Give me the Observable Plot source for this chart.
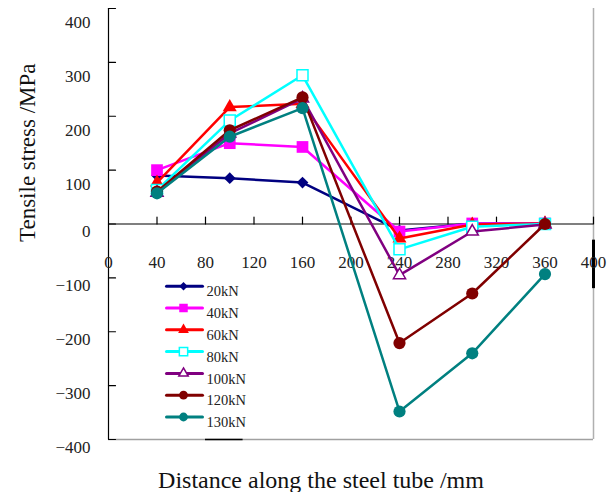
<!DOCTYPE html>
<html>
<head>
<meta charset="utf-8">
<script src="https://cdn.jsdelivr.net/npm/d3@7"></script>
<script src="https://cdn.jsdelivr.net/npm/@observablehq/plot@0.6"></script>
<style>
  html, body { margin: 0; padding: 0; background: #fff; }
  #chart svg { display: block; }
</style>
</head>
<body>
<div id="chart"></div>
<script>
// ---- data ----
const distances = [40, 100, 160, 240, 300, 360];
const loads = ["20kN", "40kN", "60kN", "80kN", "100kN", "120kN", "130kN"];
const s20kN  = [90, 85, 77, -12, 1, 1];
const s40kN  = [100, 150, 143, -14, 1, 1];
const s60kN  = [77, 217, 223, -27, -1, 1];
const s80kN  = [63, 192, 276, -47, -5, 0];
const s100kN = [58, 168, 233, -95, -14, -1];
const s120kN = [60, 174, 235, -221, -129, 0];
const s130kN = [57, 162, 215, -348, -240, -93];
const seriesValues = [s20kN, s40kN, s60kN, s80kN, s100kN, s120kN, s130kN];
const xTicks = [40, 80, 120, 160, 200, 240, 280, 320, 360, 400];
const xTickLabels = [0, 40, 80, 120, 160, 200, 240, 280, 320, 360, 400];
const yTicks = [400, 300, 200, 100, 0, -100, -200, -300, -400];
const xTitle = "Distance along the steel tube /mm";
const yTitle = "Tensile stress /MPa";

// ---- styles ----
const styles = [
  {color: "#000080", symbol: "diamond2", r: 5.3, lr: 3.8, fill: "#000080"},
  {color: "#ff00ff", symbol: "square", r: 6.6, lr: 4.8, fill: "#ff00ff"},
  {color: "#ff0000", symbol: "triangle", r: 5.2, lr: 4.0, fill: "#ff0000"},
  {color: "#00ffff", symbol: "square2", r: 7, lr: 5.3, fill: "white", hollow: true},
  {color: "#800080", symbol: "triangle2", r: 5.8, lr: 4.5, fill: "white", hollow: true},
  {color: "#800000", symbol: "circle", r: 6.1, lr: 4.4, fill: "#800000"},
  {color: "#008080", symbol: "circle", r: 6.1, lr: 4.4, fill: "#008080"}
];

const rows = [];
loads.forEach((load, i) => distances.forEach((d, j) => rows.push({load, x: d, y: seriesValues[i][j]})));

const lineShape = {draw(context, l) { context.moveTo(0, 0); context.lineTo(0, -l); }};
const serif = "'Liberation Serif', 'DejaVu Serif', serif";

const marks = [];
// frame pieces
marks.push(Plot.ruleX([400], {stroke: "#b0b0b0", strokeWidth: 1.5}));
marks.push(Plot.ruleY([-400], {stroke: "#a0a0a0", strokeWidth: 1.5}));
marks.push(Plot.ruleX([0], {stroke: "#000", strokeWidth: 1.2}));
marks.push(Plot.ruleY([0], {stroke: "#000", strokeWidth: 1.2}));
// artifacts from the original figure
marks.push(Plot.ruleX([400], {y1: -30, y2: -120, stroke: "#000", strokeWidth: 3}));
marks.push(Plot.ruleY([-400], {x1: 80, x2: 111, stroke: "#000", strokeWidth: 1.5}));
// x ticks (upward from zero line)
marks.push(Plot.vector(xTicks, {x: d => d, y: 0, length: 7, rotate: 0, anchor: "start", shape: lineShape, stroke: "#000", strokeWidth: 1.2}));
// y ticks (inward from left axis)
marks.push(Plot.vector(yTicks, {y: d => d, frameAnchor: "left", length: 7, rotate: 90, anchor: "start", shape: lineShape, stroke: "#000", strokeWidth: 1.2}));
// x tick labels
marks.push(Plot.text(xTickLabels, {x: d => d, y: 0, dy: 39, text: d => String(d), fontSize: 17, fontFamily: serif, fill: "#222"}));
// y tick labels (offset as in the original)
const fmt = d => d < 0 ? "\u2212" + Math.abs(d) : String(d);
marks.push(Plot.text(yTicks.filter(d => d > 0), {y: d => d, frameAnchor: "left", dx: -18, dy: 14, textAnchor: "end", text: fmt, fontSize: 17, fontFamily: serif, fill: "#222"}));
marks.push(Plot.text(yTicks.filter(d => d <= 0), {y: d => d, frameAnchor: "left", dx: -18, dy: 8, textAnchor: "end", text: fmt, fontSize: 17, fontFamily: serif, fill: "#222"}));
// titles
marks.push(Plot.text([xTitle], {frameAnchor: "bottom", dx: -30, dy: 48, text: d => d, fontSize: 24, fontFamily: serif, fill: "#111"}));
marks.push(Plot.text([yTitle], {frameAnchor: "left", dx: -81, dy: 18, rotate: -90, text: d => d, fontSize: 23, fontFamily: serif, fill: "#111"}));

// series
loads.forEach((load, i) => {
  const st = styles[i];
  const data = rows.filter(r => r.load === load);
  marks.push(Plot.line(data, {x: "x", y: "y", stroke: st.color, strokeWidth: 2.5}));
  marks.push(Plot.dot(data, {x: "x", y: "y", symbol: st.symbol, r: st.r,
    fill: st.fill, stroke: st.hollow ? st.color : "none", strokeWidth: st.hollow ? 1.5 : 0}));
});

// legend
const legendTop = 277.7, legendStep = 21.8;
loads.forEach((load, i) => {
  const st = styles[i];
  const dy = legendTop + i * legendStep;
  marks.push(Plot.vector([load], {frameAnchor: "top-left", dx: 58, dy, length: 36, rotate: 90, anchor: "start", shape: lineShape, stroke: st.color, strokeWidth: 3}));
  marks.push(Plot.dot([load], {frameAnchor: "top-left", dx: 75, dy, symbol: st.symbol, r: st.lr,
    fill: st.fill, stroke: st.hollow ? st.color : "none", strokeWidth: st.hollow ? 1.5 : 0}));
  marks.push(Plot.text([load], {frameAnchor: "top-left", dx: 98, dy, textAnchor: "start", text: d => d, fontSize: 14.5, fontFamily: serif, fill: "#222"}));
});

const chart = Plot.plot({
  width: 614,
  height: 492,
  marginLeft: 108,
  marginRight: 21,
  marginTop: 8,
  marginBottom: 53,
  x: {domain: [0, 400], axis: null},
  y: {domain: [-400, 400], axis: null},
  style: {background: "white", overflow: "visible"},
  marks
});
document.getElementById("chart").appendChild(chart);
</script>
</body>
</html>
